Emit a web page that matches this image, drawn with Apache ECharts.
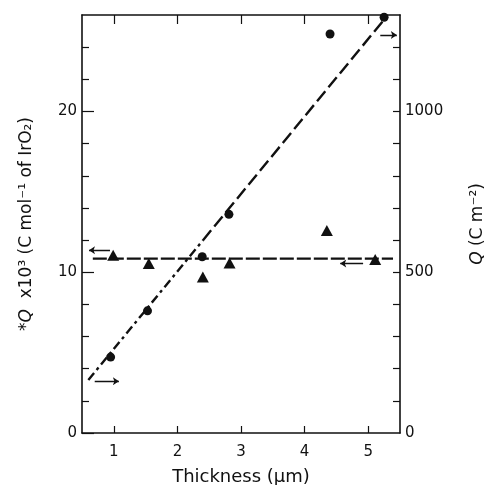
<!DOCTYPE html>
<html><head><meta charset="utf-8">
<script src="https://cdn.jsdelivr.net/npm/echarts@6/dist/echarts.min.js"></script>
<style>html,body{margin:0;padding:0;background:#fff}#c{width:484px;height:485px}</style>
</head><body><div id="c"></div>
<script>
// Data
const circleX = [0.95, 1.53, 2.39, 2.81, 4.40, 5.25];
const circleQ = [236, 380, 548, 680, 1241, 1293];        // right axis, C m^-2
const triX = [0.99, 1.55, 2.40, 2.82, 4.35, 5.11];
const triQ = [11.05, 10.54, 9.71, 10.58, 12.6, 10.79];    // left axis, x10^3 C mol^-1
const fitLowX = [0.6, 2.4], fitLowY = [165, 599];
const fitHighX = [2.4, 5.28], fitHighY = [599, 1293];
const flatX = [0.67, 5.39], flatY = [10.85, 10.85];
const xTicks = [1, 2, 3, 4, 5];
const leftLabels = [0, 10, 20];
const leftMinor = [2, 4, 6, 8, 12, 14, 16, 18, 22, 24];
const rightLabels = [0, 500, 1000];
const rightMinor = [100, 200, 300, 400, 500, 600, 700, 800, 900, 1000, 1100, 1200];
// arrows: [x1, y1, x2, y2]
const leftArrows = [[0.94, 11.37, 0.61, 11.37], [4.92, 10.54, 4.56, 10.54]];
const rightArrows = [[0.70, 161, 1.08, 161], [5.19, 1238, 5.45, 1238]];

const zip = (a, b) => a.map((v, i) => [v, b[i]]);
const black = '#111';
const font = 'DejaVu Sans';
const chart = echarts.init(document.getElementById('c'), null, {renderer: 'canvas'});
const lineStyle = {color: black, width: 1.6};
chart.setOption({
  backgroundColor: '#fff',
  animation: false,
  grid: {left: 82, right: 84, top: 15, bottom: 52, outerBoundsMode: 'none', containLabel: false},
  xAxis: [
    {type: 'value', position: 'bottom', min: 0.5, max: 5.5,
     axisLine: {onZero: false, lineStyle}, splitLine: {show: false},
     axisTick: {inside: true, length: 7, customValues: xTicks, lineStyle: {color: black, width: 1.2}},
     axisLabel: {customValues: xTicks, margin: 12, fontSize: 15, color: black, fontFamily: font},
     name: 'Thickness (μm)', nameLocation: 'middle', nameGap: 35,
     nameTextStyle: {fontSize: 18, color: black, fontFamily: font}},
    {type: 'value', position: 'top', min: 0.5, max: 5.5,
     axisLine: {onZero: false, lineStyle}, splitLine: {show: false},
     axisTick: {inside: true, length: 9, customValues: xTicks, lineStyle: {color: black, width: 1.2}},
     axisLabel: {show: false}}
  ],
  yAxis: [
    {type: 'value', position: 'left', min: 0, max: 26,
     axisLine: {onZero: false, lineStyle}, splitLine: {show: false},
     axisTick: {inside: true, length: 12, customValues: leftLabels, lineStyle: {color: black, width: 1.2}},
     axisLabel: {customValues: leftLabels, margin: 5, fontSize: 15, color: black, fontFamily: font},
     name: '*{i|Q}  x10³ (C mol⁻¹ of IrO₂)', nameLocation: 'middle', nameGap: 47, nameRotate: 90,
     nameTextStyle: {fontSize: 17, color: black, fontFamily: font,
       rich: {i: {fontStyle: 'italic', fontSize: 17, color: black, fontFamily: font}}}},
    {type: 'value', position: 'right', min: 0, max: 1300,
     axisLine: {onZero: false, lineStyle}, splitLine: {show: false},
     axisTick: {inside: true, length: 7, customValues: rightMinor, lineStyle: {color: black, width: 1.2}},
     axisLabel: {customValues: rightLabels, margin: 5, fontSize: 15, color: black, fontFamily: font,
       formatter: v => String(v)},
     name: '{i|Q} (C m⁻²)', nameLocation: 'middle', nameGap: 69, nameRotate: 90,
     nameTextStyle: {fontSize: 17, color: black, fontFamily: font,
       rich: {i: {fontStyle: 'italic', fontSize: 17, color: black, fontFamily: font}}}},
    {type: 'value', position: 'left', min: 0, max: 26,
     axisLine: {show: false, onZero: false}, splitLine: {show: false},
     axisTick: {inside: true, length: 7, customValues: leftMinor, lineStyle: {color: black, width: 1.2}},
     axisLabel: {show: false}}
  ],
  series: [
    {type: 'line', yAxisIndex: 1, data: zip(fitLowX, fitLowY), symbol: 'none',
     lineStyle: {color: black, width: 2.4, type: [9, 4, 3, 4]}},
    {type: 'line', yAxisIndex: 1, data: zip(fitHighX, fitHighY), symbol: 'none',
     lineStyle: {color: black, width: 2.4, type: [13, 5]}},
    {type: 'line', yAxisIndex: 0, data: zip(flatX, flatY), symbol: 'none',
     lineStyle: {color: black, width: 2.2, type: [14, 3]}},
    {type: 'scatter', yAxisIndex: 1, data: zip(circleX, circleQ), symbol: 'circle', symbolSize: 9,
     itemStyle: {color: black, opacity: 1}},
    {type: 'scatter', yAxisIndex: 0, data: zip(triX, triQ), symbol: 'triangle', symbolSize: [12, 11],
     itemStyle: {color: black, opacity: 1}},
    {type: 'lines', coordinateSystem: 'cartesian2d', yAxisIndex: 0,
     symbol: ['none', 'arrow'], symbolSize: 6,
     lineStyle: {color: black, width: 1.4, opacity: 1},
     data: leftArrows.map(a => ({coords: [[a[0], a[1]], [a[2], a[3]]]}))},
    {type: 'lines', coordinateSystem: 'cartesian2d', yAxisIndex: 1,
     symbol: ['none', 'arrow'], symbolSize: 6,
     lineStyle: {color: black, width: 1.4, opacity: 1},
     data: rightArrows.map(a => ({coords: [[a[0], a[1]], [a[2], a[3]]]}))}
  ]
});
</script></body></html>
